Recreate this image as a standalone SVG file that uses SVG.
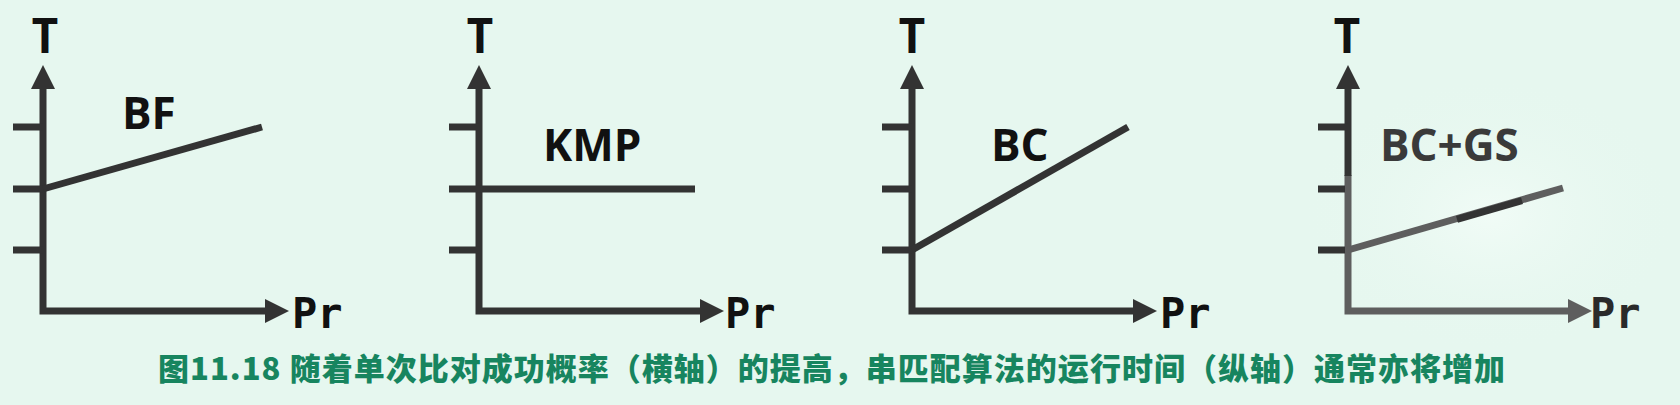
<svg xmlns="http://www.w3.org/2000/svg" width="1680" height="405" viewBox="0 0 1680 405">
  <style>
    .ax { fill: none; stroke: #333333; stroke-width: 7; stroke-linejoin: miter; marker-start: url(#ahs); marker-end: url(#ahe); }
    .tk { stroke: #333333; stroke-width: 7; }
    .dl { stroke: #333333; stroke-width: 7; stroke-linecap: butt; }
    .ax4 { fill: none; stroke: #5e5e5e; stroke-width: 7; stroke-linejoin: miter; }
    .g4 { stroke: #5e5e5e; stroke-width: 7; }
    .d4 { stroke: #333333; stroke-width: 7; }
    .lbT { font-family: "DejaVu Sans Mono", "Liberation Mono", monospace; font-weight: 700; font-size: 48px; fill: #111111; text-anchor: middle; }
    .lbP { font-family: "DejaVu Sans Mono", "Liberation Mono", monospace; font-weight: 700; font-size: 42px; fill: #111111; }
    .lbC { font-family: "Open Sans", "Liberation Sans", sans-serif; font-weight: 700; font-size: 44px; fill: #111111; }
    .cap { font-family: "Noto Sans CJK SC", "Noto Sans", sans-serif; font-weight: 900; font-size: 31px; fill: #17855f; }
  </style>
  <defs>
    <marker id="ahe" markerUnits="userSpaceOnUse" markerWidth="24" markerHeight="24" viewBox="0 0 22 22" refX="0" refY="11" orient="auto">
      <path d="M0,0 L22,11 L0,22 Z" fill="#333333"/>
    </marker>
    <marker id="ahs" markerUnits="userSpaceOnUse" markerWidth="24" markerHeight="24" viewBox="0 0 22 22" refX="0" refY="11" orient="auto-start-reverse">
      <path d="M0,0 L22,11 L0,22 Z" fill="#333333"/>
    </marker>
    <marker id="ahe4" markerUnits="userSpaceOnUse" markerWidth="24" markerHeight="24" viewBox="0 0 22 22" refX="0" refY="11" orient="auto">
      <path d="M0,0 L22,11 L0,22 Z" fill="#5e5e5e"/>
    </marker>
    <radialGradient id="glow" cx="0.5" cy="0.5" r="0.5">
      <stop offset="0" stop-color="#f2fcf7" stop-opacity="0.9"/>
      <stop offset="1" stop-color="#e6f7ef" stop-opacity="0"/>
    </radialGradient>
  </defs>

  <rect x="0" y="0" width="1680" height="405" fill="#e6f7ef"/>
  <ellipse cx="1490" cy="215" rx="190" ry="140" fill="url(#glow)"/>

  <!-- Panel 1: BF -->
  <g id="panel-bf">
    <text class="lbT" x="45" y="53">T</text>
    <path class="ax" d="M43,89 L43,311 L265,311"/>
    <line class="tk" x1="13" y1="127" x2="43" y2="127"/>
    <line class="tk" x1="13" y1="189" x2="43" y2="189"/>
    <line class="tk" x1="13" y1="250" x2="43" y2="250"/>
    <line class="dl" x1="43" y1="189" x2="262" y2="127"/>
    <text class="lbC" x="122" y="129">BF</text>
    <text class="lbP" x="292" y="328">Pr</text>
  </g>

  <!-- Panel 2: KMP -->
  <g id="panel-kmp">
    <text class="lbT" x="480" y="53">T</text>
    <path class="ax" d="M479,89 L479,311 L700,311"/>
    <line class="tk" x1="449" y1="127" x2="479" y2="127"/>
    <line class="tk" x1="449" y1="189" x2="479" y2="189"/>
    <line class="tk" x1="449" y1="250" x2="479" y2="250"/>
    <line class="dl" x1="479" y1="189" x2="695" y2="189"/>
    <text class="lbC" x="543" y="161">KMP</text>
    <text class="lbP" x="725" y="328">Pr</text>
  </g>

  <!-- Panel 3: BC -->
  <g id="panel-bc">
    <text class="lbT" x="912" y="53">T</text>
    <path class="ax" d="M912,89 L912,311 L1133,311"/>
    <line class="tk" x1="882" y1="127" x2="912" y2="127"/>
    <line class="tk" x1="882" y1="189" x2="912" y2="189"/>
    <line class="tk" x1="882" y1="250" x2="912" y2="250"/>
    <line class="dl" x1="912" y1="250" x2="1128" y2="127"/>
    <text class="lbC" x="991" y="161">BC</text>
    <text class="lbP" x="1160" y="328">Pr</text>
  </g>

  <!-- Panel 4: BC+GS -->
  <g id="panel-bcgs">
    <text class="lbT" x="1347" y="53">T</text>
    <path class="ax4" d="M1348,175 L1348,311 L1568,311" marker-end="url(#ahe4)"/>
    <line class="d4" x1="1348" y1="89" x2="1348" y2="176" marker-start="url(#ahs)"/>
    <line class="d4" x1="1318" y1="127" x2="1348" y2="127"/>
    <line class="d4" x1="1318" y1="189" x2="1345" y2="189"/>
    <line class="d4" x1="1318" y1="250" x2="1345" y2="250"/>
    <line class="g4" x1="1348" y1="250" x2="1563" y2="188"/>
    <line class="d4" x1="1457" y1="219.3" x2="1522" y2="200.6"/>
    <text class="lbC" x="1380" y="161" style="fill:#3a3a3a">BC+GS</text>
    <text class="lbP" x="1590" y="328" style="fill:#2a2a2a">Pr</text>
  </g>

  <!-- Caption -->
  <text class="cap" x="158" y="380" textLength="1347" lengthAdjust="spacing">图11.18 随着单次比对成功概率（横轴）的提高，串匹配算法的运行时间（纵轴）通常亦将增加</text>
</svg>
